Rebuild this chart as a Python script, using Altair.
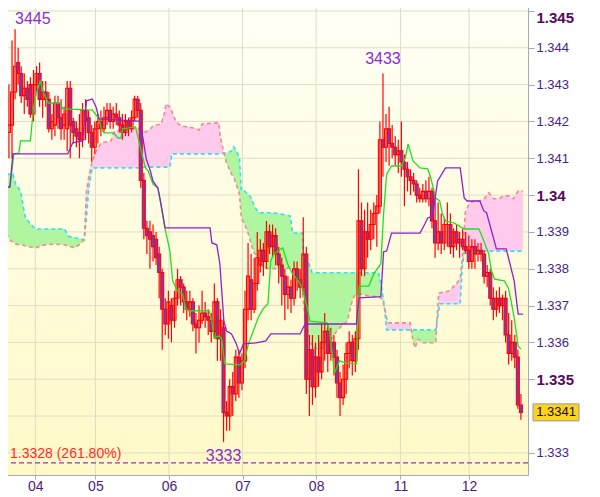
import json
import altair as alt
import pandas as pd

# ---------------- candles (hourly bars, index 0..167) ----------------
OPEN = [1.3417,1.3419,1.3428,1.3436,1.3433,1.3427,1.3429,1.3430,1.3422,1.3430,
        1.3433,1.3426,1.3428,1.3426,1.3418,1.3419,1.3425,1.3421,1.3419,1.3418,
        1.3429,1.3420,1.3418,1.3417,1.3415,1.3423,1.3421,1.3417,1.3413,1.3418,
        1.3420,1.3418,1.3421,1.3423,1.3420,1.3422,1.3421,1.3419,1.3417,1.3420,
        1.3418,1.3421,1.3426,1.3423,1.3404,1.3391,1.3390,1.3389,1.3388,1.3384,
        1.3379,1.3369,1.3365,1.3370,1.3366,1.3372,1.3377,1.3375,1.3371,1.3369,
        1.3371,1.3365,1.3364,1.3366,1.3368,1.3367,1.3366,1.3363,1.3371,1.3361,
        1.3364,1.3341,1.3340,1.3348,1.3346,1.3356,1.3349,1.3355,1.3369,1.3377,
        1.3369,1.3376,1.3381,1.3385,1.3382,1.3390,1.3386,1.3389,1.3384,1.3381,
        1.3378,1.3373,1.3375,1.3372,1.3380,1.3377,1.3375,1.3384,1.3350,1.3358,
        1.3348,1.3356,1.3352,1.3360,1.3363,1.3357,1.3360,1.3356,1.3349,1.3345,
        1.3350,1.3357,1.3360,1.3355,1.3361,1.3393,1.3380,1.3390,1.3388,1.3392,
        1.3395,1.3397,1.3415,1.3413,1.3418,1.3414,1.3413,1.3411,1.3412,1.3409,
        1.3407,1.3405,1.3404,1.3403,1.3400,1.3399,1.3401,1.3399,1.3401,1.3393,
        1.3387,1.3390,1.3387,1.3392,1.3392,1.3386,1.3390,1.3387,1.3388,1.3386,
        1.3385,1.3382,1.3386,1.3384,1.3385,1.3384,1.3378,1.3379,1.3372,1.3369,
        1.3372,1.3370,1.3372,1.3362,1.3357,1.3360,1.3356,1.3343]
HIGH = [1.3430,1.3442,1.3445,1.3440,1.3435,1.3433,1.3431,1.3432,1.3434,1.3435,
        1.3436,1.3431,1.3431,1.3428,1.3422,1.3427,1.3427,1.3426,1.3424,1.3431,
        1.3431,1.3421,1.3420,1.3422,1.3425,1.3426,1.3423,1.3419,1.3420,1.3422,
        1.3423,1.3424,1.3425,1.3425,1.3424,1.3425,1.3423,1.3422,1.3422,1.3421,
        1.3423,1.3427,1.3427,1.3425,1.3406,1.3393,1.3393,1.3392,1.3390,1.3386,
        1.3380,1.3372,1.3374,1.3372,1.3374,1.3380,1.3378,1.3376,1.3374,1.3374,
        1.3372,1.3368,1.3370,1.3374,1.3371,1.3369,1.3368,1.3376,1.3372,1.3369,
        1.3366,1.3344,1.3350,1.3352,1.3358,1.3358,1.3357,1.3374,1.3387,1.3384,
        1.3383,1.3390,1.3388,1.3387,1.3393,1.3392,1.3392,1.3391,1.3386,1.3383,
        1.3380,1.3378,1.3377,1.3382,1.3382,1.3380,1.3394,1.3386,1.3362,1.3362,
        1.3360,1.3362,1.3365,1.3368,1.3365,1.3364,1.3362,1.3358,1.3352,1.3354,
        1.3360,1.3363,1.3362,1.3363,1.3407,1.3398,1.3396,1.3398,1.3396,1.3398,
        1.3400,1.3420,1.3433,1.3422,1.3424,1.3419,1.3416,1.3415,1.3420,1.3411,
        1.3409,1.3407,1.3406,1.3404,1.3402,1.3403,1.3404,1.3405,1.3402,1.3400,
        1.3398,1.3395,1.3394,1.3398,1.3395,1.3391,1.3392,1.3390,1.3391,1.3390,
        1.3389,1.3388,1.3388,1.3387,1.3387,1.3385,1.3381,1.3380,1.3375,1.3374,
        1.3375,1.3373,1.3374,1.3368,1.3366,1.3362,1.3358,1.3346]
LOW = [1.3410,1.3410,1.3426,1.3430,1.3425,1.3422,1.3424,1.3421,1.3420,1.3428,
       1.3424,1.3421,1.3424,1.3417,1.3415,1.3416,1.3418,1.3415,1.3415,1.3412,
       1.3410,1.3414,1.3413,1.3410,1.3413,1.3415,1.3414,1.3409,1.3411,1.3414,
       1.3416,1.3417,1.3419,1.3418,1.3418,1.3419,1.3417,1.3415,1.3416,1.3416,
       1.3417,1.3420,1.3421,1.3402,1.3388,1.3384,1.3380,1.3382,1.3381,1.3372,
       1.3358,1.3362,1.3361,1.3360,1.3364,1.3370,1.3370,1.3368,1.3366,1.3367,
       1.3363,1.3357,1.3360,1.3365,1.3364,1.3362,1.3360,1.3361,1.3355,1.3355,
       1.3333,1.3336,1.3336,1.3340,1.3344,1.3345,1.3347,1.3353,1.3366,1.3366,
       1.3368,1.3374,1.3379,1.3378,1.3380,1.3384,1.3383,1.3381,1.3376,1.3370,
       1.3366,1.3369,1.3368,1.3370,1.3374,1.3372,1.3373,1.3346,1.3340,1.3343,
       1.3345,1.3348,1.3350,1.3355,1.3352,1.3355,1.3351,1.3345,1.3340,1.3343,
       1.3346,1.3353,1.3351,1.3352,1.3358,1.3378,1.3378,1.3383,1.3385,1.3388,
       1.3386,1.3395,1.3405,1.3409,1.3408,1.3410,1.3408,1.3406,1.3405,1.3397,
       1.3401,1.3400,1.3401,1.3398,1.3398,1.3398,1.3398,1.3397,1.3391,1.3383,
       1.3385,1.3384,1.3385,1.3386,1.3384,1.3383,1.3385,1.3383,1.3385,1.3384,
       1.3380,1.3380,1.3380,1.3382,1.3382,1.3376,1.3375,1.3370,1.3366,1.3367,
       1.3368,1.3366,1.3360,1.3354,1.3355,1.3353,1.3342,1.3339]
CLOSE = [1.3419,1.3428,1.3435,1.3433,1.3427,1.3429,1.3426,1.3422,1.3430,1.3433,
         1.3426,1.3428,1.3426,1.3418,1.3420,1.3425,1.3421,1.3418,1.3422,1.3429,
         1.3419,1.3417,1.3416,1.3415,1.3423,1.3420,1.3417,1.3413,1.3418,1.3420,
         1.3418,1.3421,1.3423,1.3420,1.3422,1.3421,1.3419,1.3417,1.3420,1.3418,
         1.3421,1.3426,1.3423,1.3404,1.3391,1.3389,1.3388,1.3386,1.3383,1.3379,
         1.3369,1.3365,1.3371,1.3366,1.3372,1.3377,1.3375,1.3371,1.3369,1.3371,
         1.3365,1.3364,1.3366,1.3368,1.3367,1.3366,1.3363,1.3371,1.3361,1.3366,
         1.3341,1.3340,1.3348,1.3346,1.3356,1.3349,1.3355,1.3369,1.3378,1.3369,
         1.3376,1.3383,1.3385,1.3382,1.3390,1.3386,1.3389,1.3384,1.3381,1.3378,
         1.3373,1.3375,1.3372,1.3380,1.3377,1.3375,1.3384,1.3350,1.3358,1.3348,
         1.3356,1.3352,1.3360,1.3363,1.3357,1.3360,1.3356,1.3349,1.3345,1.3350,
         1.3357,1.3360,1.3355,1.3361,1.3393,1.3380,1.3390,1.3388,1.3392,1.3395,
         1.3397,1.3415,1.3413,1.3418,1.3414,1.3413,1.3411,1.3412,1.3409,1.3407,
         1.3405,1.3404,1.3403,1.3400,1.3399,1.3401,1.3399,1.3401,1.3393,1.3387,
         1.3390,1.3387,1.3392,1.3392,1.3386,1.3390,1.3387,1.3388,1.3386,1.3385,
         1.3382,1.3386,1.3384,1.3385,1.3384,1.3378,1.3379,1.3372,1.3369,1.3372,
         1.3370,1.3372,1.3362,1.3357,1.3360,1.3356,1.3343,1.3341]

# ---------------- Ichimoku lines ----------------
TK_I = [0.3,1.6,3.2,3.8,7.0,8.0,8.6,10.2,11.2,12.8,16.6,17.6,27.2,29.4,30.1,31.0,34.2,35.5,36.5,37.1,
        41.3,42.9,44.5,45.4,47.0,48.6,50.9,52.5,53.4,55.0,56.6,57.6,58.6,65.3,66.2,66.9,68.5,69.4,70.4,75.2,
        76.8,78.1,79.7,81.3,82.9,84.5,85.4,86.4,89.3,90.9,92.5,94.4,95.7,97.3,98.2,103.7,104.6,106.2,107.8,110.1,
        113.3,113.6,114.2,117.4,119.0,121.3,122.2,123.2,124.8,128.0,129.3,130.2,131.8,134.1,136.6,137.6,139.2,140.5,141.4,142.4,
        145.3,147.8,148.8,153.3,154.9,156.5,157.4,158.4,161.6,162.9,163.8,164.8,166.1,167.0]
TK_V = [1.34019,1.34112,1.34114,1.34147,1.34147,1.34237,1.34264,1.34310,1.34280,1.34250,1.34250,1.34234,1.34231,1.34207,1.34180,1.34169,1.34169,1.34155,1.34155,1.34180,
        1.34185,1.34128,1.34074,1.34066,1.34030,1.34019,1.33911,1.33848,1.33767,1.33740,1.33732,1.33694,1.33686,1.33686,1.33658,1.33612,1.33618,1.33609,1.33542,1.33539,
        1.33550,1.33596,1.33631,1.33667,1.33691,1.33705,1.33821,1.33840,1.33857,1.33813,1.33786,1.33767,1.33748,1.33694,1.33658,1.33653,1.33631,1.33517,1.33550,1.33544,
        1.33542,1.33569,1.33753,1.33753,1.33786,1.33813,1.33949,1.34057,1.34079,1.34079,1.34101,1.34139,1.34093,1.34074,1.34071,1.34047,1.33992,1.33984,1.33949,1.33930,
        1.33924,1.33911,1.33908,1.33908,1.33876,1.33840,1.33794,1.33772,1.33767,1.33748,1.33713,1.33667,1.33590,1.33582]

KJ_I = [-1.0,0.3,1.3,19.2,20.8,24.0,25.3,27.2,28.5,29.4,42.2,42.9,44.8,46.1,47.0,48.6,49.6,50.9,65.6,66.2,
        67.8,68.8,70.1,71.0,72.6,74.2,75.2,76.5,80.6,83.8,85.4,95.0,96.6,113.3,114.2,121.3,122.2,123.2,124.8,134.1,
        135.7,136.6,138.2,139.8,142.4,147.2,148.5,149.4,153.6,154.9,155.8,159.0,162.2,163.2,164.8,166.1,167.7]
KJ_V = [1.34022,1.34022,1.34112,1.34112,1.34142,1.34147,1.34256,1.34261,1.34237,1.34207,1.34201,1.34196,1.34098,1.34066,1.34038,1.34019,1.33976,1.33911,1.33911,1.33870,
        1.33865,1.33813,1.33658,1.33631,1.33623,1.33596,1.33569,1.33596,1.33599,1.33604,1.33623,1.33623,1.33650,1.33650,1.33721,1.33724,1.33846,1.33848,1.33897,1.33897,
        1.33922,1.33938,1.33943,1.34038,1.34074,1.34074,1.33992,1.33984,1.33984,1.33957,1.33952,1.33854,1.33854,1.33821,1.33767,1.33677,1.33677]

CLOUD_I = [-1.0,0.6,1.3,2.2,3.8,4.5,5.4,7.0,8.6,11.8,15.0,18.2,19.2,21.4,23.7,24.6,25.3,26.2,27.2,28.5,
           30.1,33.3,34.2,36.5,39.7,42.2,44.5,46.1,47.0,49.6,50.9,51.2,52.5,53.1,54.4,56.0,60.5,62.1,63.0,67.2,
           68.5,68.8,70.1,71.0,72.6,73.3,74.2,75.2,75.8,76.8,78.1,79.0,80.0,80.6,81.6,82.9,85.4,88.6,91.8,92.5,
           94.1,95.7,96.0,96.6,97.6,98.9,100.8,102.4,104.6,106.2,107.8,110.4,111.7,112.6,114.2,117.4,120.6,121.6,122.2,122.6,
           123.2,123.8,127.0,130.9,131.8,132.5,133.4,135.0,138.9,139.2,139.8,140.2,140.5,143.7,146.2,147.2,147.8,148.5,148.8,150.1,
           151.7,153.6,155.2,156.5,158.1,159.7,161.6,162.9,164.5,166.1,167.7]
SPAN_A = [1.34057,1.34057,1.34057,1.34030,1.34011,1.33976,1.33938,1.33922,1.33908,1.33908,1.33908,1.33908,1.33889,1.33884,1.33881,1.33878,1.33943,1.34030,1.34074,1.34074,
          1.34074,1.34074,1.34074,1.34074,1.34074,1.34074,1.34076,1.34076,1.34076,1.34076,1.34076,1.34076,1.34076,1.34112,1.34112,1.34112,1.34112,1.34112,1.34112,1.34112,
          1.34112,1.34112,1.34114,1.34114,1.34120,1.34131,1.34120,1.34101,1.34011,1.34011,1.34003,1.33992,1.33971,1.33962,1.33952,1.33952,1.33952,1.33949,1.33943,1.33897,
          1.33897,1.33897,1.33827,1.33824,1.33821,1.33789,1.33789,1.33789,1.33789,1.33789,1.33789,1.33789,1.33789,1.33789,1.33789,1.33789,1.33789,1.33748,1.33713,1.33686,
          1.33634,1.33634,1.33634,1.33634,1.33634,1.33634,1.33634,1.33634,1.33634,1.33634,1.33667,1.33686,1.33705,1.33705,1.33705,1.33705,1.33802,1.33843,1.33848,1.33848,
          1.33848,1.33848,1.33848,1.33848,1.33848,1.33848,1.33848,1.33848,1.33848,1.33848,1.33848]
SPAN_B = [1.33895,1.33876,1.33873,1.33867,1.33865,1.33865,1.33862,1.33859,1.33857,1.33865,1.33867,1.33865,1.33862,1.33857,1.33870,1.33884,1.34011,1.34057,1.34093,1.34120,
          1.34142,1.34147,1.34171,1.34177,1.34180,1.34182,1.34171,1.34180,1.34188,1.34193,1.34228,1.34248,1.34239,1.34228,1.34201,1.34188,1.34182,1.34177,1.34193,1.34196,
          1.34196,1.34166,1.34114,1.34087,1.34057,1.34049,1.34028,1.34003,1.33938,1.33922,1.33895,1.33867,1.33843,1.33838,1.33827,1.33802,1.33800,1.33800,1.33802,1.33800,
          1.33794,1.33745,1.33713,1.33667,1.33623,1.33588,1.33582,1.33585,1.33599,1.33623,1.33639,1.33658,1.33705,1.33726,1.33732,1.33726,1.33724,1.33718,1.33705,1.33691,
          1.33667,1.33653,1.33653,1.33653,1.33604,1.33585,1.33609,1.33599,1.33599,1.33599,1.33686,1.33734,1.33734,1.33740,1.33762,1.33775,1.33821,1.33903,1.33952,1.33976,
          1.33984,1.33984,1.33992,1.34006,1.33990,1.33990,1.33998,1.33998,1.33990,1.34011,1.34011]

# ---------------- axes / annotations ----------------
DAY_POS = [8.6, 28.2, 52.2, 76.2, 100.2, 127.7, 150.1]
DAY_LAB = ["04", "05", "06", "07", "08", "11", "12"]
PRICE_TICKS = [1.333, 1.334, 1.335, 1.336, 1.337, 1.338, 1.339,
               1.340, 1.341, 1.342, 1.343, 1.344, 1.345]
PRICE_LABELS = [1.333, 1.335, 1.336, 1.337, 1.338, 1.339,
                1.340, 1.341, 1.342, 1.343, 1.344, 1.345]   # 1.334 hidden by the price tag
FIB_LEVEL = 1.33273
FIB_TEXT = "1.3328 (261.80%)"
PEAKS = [(2, 1.3445, "3445"), (122, 1.3433, "3433")]
TROUGH = (70, 1.3333, "3333")
LAST_PRICE = 1.3341
LAST_TEXT = "1.3341"

W, H = 527, 474
FONT = "Liberation Sans"
GREY = "#A3ABB3"

xs = alt.Scale(domain=[-0.96, 167.68], nice=False, zero=False)
ys = alt.Scale(domain=[1.33240, 1.34527], nice=False, zero=False)

label_expr = "%s[indexof(%s, datum.value)]" % (json.dumps(DAY_LAB), json.dumps(DAY_POS))
x_axis = alt.Axis(values=DAY_POS, labelExpr=label_expr, grid=False, title="",
                  tickSize=4, tickColor=GREY, domainColor=GREY, labelFont=FONT,
                  labelFontSize=14, labelColor="#4E1C80", labelPadding=0,
                  labelOverlap=False, labelFlush=False)
BOLD = "abs(datum.value*200 - round(datum.value*200)) < 0.001"
TOP = "datum.value > 1.3449"
y_axis = alt.Axis(orient="right", values=PRICE_LABELS, format=".3~f", grid=False, title="",
                  tickSize=6, tickColor=GREY, domainColor=GREY, labelPadding=2,
                  labelFont=FONT, labelOverlap=False,
                  labelOffset={"condition": {"test": TOP, "value": 7}, "value": 0},
                  labelFontSize={"condition": {"test": BOLD, "value": 15}, "value": 13},
                  labelFontWeight={"condition": {"test": BOLD, "value": "bold"}, "value": "normal"},
                  labelColor={"condition": {"test": BOLD, "value": "#560A5C"}, "value": "#44228C"})


def X(f):
    return alt.X(f, type="quantitative", scale=xs, axis=x_axis)


def Y(f):
    return alt.Y(f, type="quantitative", scale=ys, axis=y_axis)


candles = pd.DataFrame(list(zip(range(len(CLOSE)), OPEN, HIGH, LOW, CLOSE)),
                       columns=["i", "o", "h", "l", "c"])
cloud = pd.DataFrame(list(zip(CLOUD_I, SPAN_A, SPAN_B)), columns=["i", "a", "b"])
tenkan = pd.DataFrame(list(zip(TK_I, TK_V)), columns=["i", "v"])
kijun = pd.DataFrame(list(zip(KJ_I, KJ_V)), columns=["i", "v"])
hgrid = pd.DataFrame({"v": PRICE_TICKS})
vgrid = pd.DataFrame({"i": DAY_POS})

bg = alt.Chart(pd.DataFrame({"k": [0]})).mark_rect(
    color=alt.Gradient(gradient="linear",
                       stops=[alt.GradientStop(color="#FFFFF7", offset=0),
                              alt.GradientStop(color="#FFF9C6", offset=1)],
                       x1=0, x2=0, y1=0, y2=1)
).encode(x=alt.value(0), x2=alt.value(W), y=alt.value(0), y2=alt.value(H))

GRIDC = "#DEDCC4"
hg = alt.Chart(hgrid).mark_rule(color=GRIDC, strokeWidth=1).encode(y=Y("v"))
vg = alt.Chart(vgrid).mark_rule(color=GRIDC, strokeWidth=1).encode(x=X("i"))

cbase = alt.Chart(cloud).transform_calculate(lo="min(datum.a, datum.b)")
green = cbase.mark_area(color="#B0F6A0", opacity=1, clip=True).encode(x=X("i"), y=Y("a"), y2="lo:Q")
pink = cbase.mark_area(color="#FFCAEB", opacity=1, clip=True).encode(x=X("i"), y=Y("b"), y2="lo:Q")
aline = alt.Chart(cloud).mark_line(color="#2EE0F0", strokeDash=[4, 3], strokeWidth=1.6, clip=True).encode(x=X("i"), y=Y("a"))
bline = alt.Chart(cloud).mark_line(color="#F08C8C", strokeDash=[4, 3], strokeWidth=1.6, clip=True).encode(x=X("i"), y=Y("b"))

fib = alt.Chart(pd.DataFrame({"v": [FIB_LEVEL]})).mark_rule(
    color="#9933CC", strokeDash=[5, 3], strokeWidth=1.3).encode(y=Y("v"))
fib_txt = alt.Chart(pd.DataFrame({"v": [FIB_LEVEL], "t": [FIB_TEXT]})).mark_text(
    align="left", baseline="middle", dy=-9, font=FONT, fontSize=14, color="#FF2A2A"
).encode(x=alt.value(9), y=Y("v"), text="t:N")

wick = alt.Chart(candles).mark_rule(color="#FF0000", strokeWidth=1.2).encode(
    x=X("i"), y=Y("l"), y2="h:Q")
body = alt.Chart(candles).mark_bar(stroke="#FF0000", strokeWidth=1.1, width=3).encode(
    x=X("i"), y=Y("o"), y2="c:Q",
    fill=alt.condition("datum.c < datum.o", alt.value("#7A3CB4"), alt.value("rgba(255,255,255,0)")))

tk = alt.Chart(tenkan).mark_line(color="#22DD22", strokeWidth=1.3, clip=True).encode(x=X("i"), y=Y("v"))
kj = alt.Chart(kijun).mark_line(color="#9022C4", strokeWidth=1.3, clip=True).encode(x=X("i"), y=Y("v"))

pk0 = alt.Chart(pd.DataFrame([PEAKS[0]], columns=["i", "p", "t"])).mark_text(
    align="left", baseline="middle", dx=0, dy=-10, font=FONT, fontSize=16, color="#8A2BD6"
).encode(x=X("i"), y=Y("p"), text="t:N")
pk1 = alt.Chart(pd.DataFrame([PEAKS[1]], columns=["i", "p", "t"])).mark_text(
    align="center", baseline="middle", dy=-15, font=FONT, fontSize=16, color="#8A2BD6"
).encode(x=X("i"), y=Y("p"), text="t:N")
tr = alt.Chart(pd.DataFrame([TROUGH], columns=["i", "p", "t"])).mark_text(
    align="center", baseline="middle", dy=14, font=FONT, fontSize=16, color="#8A2BD6"
).encode(x=X("i"), y=Y("p"), text="t:N")

tagdf = pd.DataFrame({"p": [LAST_PRICE], "t": [LAST_TEXT]})
tag_box = alt.Chart(tagdf).mark_point(
    shape="M -1 -0.37 L 1 -0.37 L 1 0.37 L -1 0.37 Z", size=2116, filled=True,
    fill="#FFD21E", stroke="#8C9BA8", strokeWidth=1, opacity=1
).encode(x=alt.value(W + 28), y=Y("p"))
tag_txt = alt.Chart(tagdf).mark_text(
    align="center", baseline="middle", font=FONT, fontSize=13, color="#111111"
).encode(x=alt.value(W + 28), y=Y("p"), text="t:N")

layers = [bg, hg, vg, green, pink, aline, bline, fib, fib_txt, wick, body, tk, kj,
          pk0, pk1, tr, tag_box, tag_txt]

base = alt.layer(*layers).properties(width=W, height=H)

chart = base.properties(padding={"left": -8, "top": -8, "right": 4, "bottom": 0})
try:
    chart.to_dict()
except Exception:
    chart = base.properties(padding=0)

chart = chart.configure_view(strokeWidth=0)
chart.save("out.html", embed_options={"renderer": "svg", "actions": False})
